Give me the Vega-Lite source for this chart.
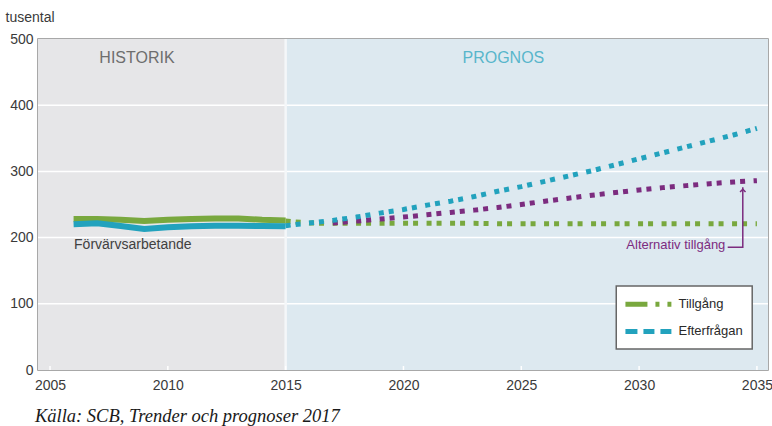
{
  "$schema": "https://vega.github.io/schema/vega-lite/v6.json",
  "width": 730,
  "height": 331,
  "autosize": {"type": "none"},
  "padding": {"left": 38, "top": 39, "right": 4, "bottom": 56},
  "background": "white",
  "config": {
    "view": {"stroke": "#8c8c8c", "strokeWidth": 1.5},
    "font": "Liberation Sans",
    "axis": {"labelFont": "Liberation Sans", "labelFontSize": 14, "labelColor": "#3a3a3a", "titleFont": "Liberation Sans", "domain": false, "ticks": false, "grid": false},
    "axisY": {"titleAngle": 0, "titleAlign": "left", "titleBaseline": "middle", "titleX": -33, "titleY": -22, "titleFontSize": 14, "titleFontWeight": "normal", "titleColor": "#3a3a3a"}
  },
  "datasets": {
    "hist": [
      {"year": 2006, "value": 228, "s": "Tillgång"},
      {"year": 2007, "value": 228, "s": "Tillgång"},
      {"year": 2008, "value": 227, "s": "Tillgång"},
      {"year": 2009, "value": 225, "s": "Tillgång"},
      {"year": 2010, "value": 227, "s": "Tillgång"},
      {"year": 2011, "value": 228, "s": "Tillgång"},
      {"year": 2012, "value": 229, "s": "Tillgång"},
      {"year": 2013, "value": 229, "s": "Tillgång"},
      {"year": 2014, "value": 227, "s": "Tillgång"},
      {"year": 2015, "value": 226, "s": "Tillgång"},
      {"year": 2006, "value": 220, "s": "Efterfrågan"},
      {"year": 2007, "value": 221.5, "s": "Efterfrågan"},
      {"year": 2008, "value": 217.5, "s": "Efterfrågan"},
      {"year": 2009, "value": 213, "s": "Efterfrågan"},
      {"year": 2010, "value": 215.5, "s": "Efterfrågan"},
      {"year": 2011, "value": 217, "s": "Efterfrågan"},
      {"year": 2012, "value": 218, "s": "Efterfrågan"},
      {"year": 2013, "value": 218, "s": "Efterfrågan"},
      {"year": 2014, "value": 217.5, "s": "Efterfrågan"},
      {"year": 2015, "value": 217, "s": "Efterfrågan"}
    ],
    "prog": [
      {"year": 2015, "value": 225, "s": "Tillgång"},
      {"year": 2016, "value": 222, "s": "Tillgång"},
      {"year": 2017, "value": 221.5, "s": "Tillgång"},
      {"year": 2018, "value": 221.5, "s": "Tillgång"},
      {"year": 2019, "value": 221.5, "s": "Tillgång"},
      {"year": 2020, "value": 221.5, "s": "Tillgång"},
      {"year": 2021, "value": 221.5, "s": "Tillgång"},
      {"year": 2022, "value": 221.5, "s": "Tillgång"},
      {"year": 2023, "value": 221.5, "s": "Tillgång"},
      {"year": 2024, "value": 221, "s": "Tillgång"},
      {"year": 2025, "value": 221, "s": "Tillgång"},
      {"year": 2026, "value": 221, "s": "Tillgång"},
      {"year": 2027, "value": 221, "s": "Tillgång"},
      {"year": 2028, "value": 221, "s": "Tillgång"},
      {"year": 2029, "value": 221, "s": "Tillgång"},
      {"year": 2030, "value": 221, "s": "Tillgång"},
      {"year": 2031, "value": 221, "s": "Tillgång"},
      {"year": 2032, "value": 221, "s": "Tillgång"},
      {"year": 2033, "value": 221, "s": "Tillgång"},
      {"year": 2034, "value": 221, "s": "Tillgång"},
      {"year": 2035, "value": 221, "s": "Tillgång"},
      {"year": 2017, "value": 222, "s": "Alternativ"},
      {"year": 2018, "value": 225, "s": "Alternativ"},
      {"year": 2019, "value": 228, "s": "Alternativ"},
      {"year": 2020, "value": 231, "s": "Alternativ"},
      {"year": 2021, "value": 234.5, "s": "Alternativ"},
      {"year": 2022, "value": 238, "s": "Alternativ"},
      {"year": 2023, "value": 241.5, "s": "Alternativ"},
      {"year": 2024, "value": 245.5, "s": "Alternativ"},
      {"year": 2025, "value": 250, "s": "Alternativ"},
      {"year": 2026, "value": 255, "s": "Alternativ"},
      {"year": 2027, "value": 259.5, "s": "Alternativ"},
      {"year": 2028, "value": 264, "s": "Alternativ"},
      {"year": 2029, "value": 268, "s": "Alternativ"},
      {"year": 2030, "value": 272, "s": "Alternativ"},
      {"year": 2031, "value": 275.5, "s": "Alternativ"},
      {"year": 2032, "value": 278.5, "s": "Alternativ"},
      {"year": 2033, "value": 281.5, "s": "Alternativ"},
      {"year": 2034, "value": 284, "s": "Alternativ"},
      {"year": 2035, "value": 286, "s": "Alternativ"},
      {"year": 2015, "value": 218, "s": "Efterfrågan"},
      {"year": 2016, "value": 222, "s": "Efterfrågan"},
      {"year": 2017, "value": 226, "s": "Efterfrågan"},
      {"year": 2018, "value": 231, "s": "Efterfrågan"},
      {"year": 2019, "value": 237, "s": "Efterfrågan"},
      {"year": 2020, "value": 242.5, "s": "Efterfrågan"},
      {"year": 2021, "value": 249, "s": "Efterfrågan"},
      {"year": 2022, "value": 255, "s": "Efterfrågan"},
      {"year": 2023, "value": 262, "s": "Efterfrågan"},
      {"year": 2024, "value": 270, "s": "Efterfrågan"},
      {"year": 2025, "value": 277, "s": "Efterfrågan"},
      {"year": 2026, "value": 285, "s": "Efterfrågan"},
      {"year": 2027, "value": 293, "s": "Efterfrågan"},
      {"year": 2028, "value": 301, "s": "Efterfrågan"},
      {"year": 2029, "value": 310, "s": "Efterfrågan"},
      {"year": 2030, "value": 319, "s": "Efterfrågan"},
      {"year": 2031, "value": 328, "s": "Efterfrågan"},
      {"year": 2032, "value": 337, "s": "Efterfrågan"},
      {"year": 2033, "value": 346, "s": "Efterfrågan"},
      {"year": 2034, "value": 355, "s": "Efterfrågan"},
      {"year": 2035, "value": 365, "s": "Efterfrågan"}
    ]
  },
  "layer": [
    {
      "data": {"values": [
        {"x1": 2004.49, "x2": 2015, "p": "hist"},
        {"x1": 2015, "x2": 2035.47, "p": "prog"}
      ]},
      "mark": {"type": "rect"},
      "encoding": {
        "x": {"field": "x1", "type": "quantitative", "title": null, "scale": {"domain": [2004.49, 2035.47], "nice": false, "zero": false}},
        "x2": {"field": "x2"},
        "fill": {"field": "p", "type": "nominal", "scale": {"domain": ["hist", "prog"], "range": ["#e6e6e8", "#dde9f0"]}, "legend": null}
      }
    },
    {
      "data": {"values": [{"y": 100}, {"y": 200}, {"y": 300}, {"y": 400}]},
      "mark": {"type": "rule", "stroke": "white", "strokeWidth": 1.5},
      "encoding": {
        "y": {"field": "y", "type": "quantitative", "title": "tusental", "scale": {"domain": [0, 500], "nice": false},
          "axis": {"values": [0, 100, 200, 300, 400, 500], "labelPadding": 5}}
      }
    },
    {
      "data": {"values": [{"x": 2015}]},
      "mark": {"type": "rule", "stroke": "#f4f7f9", "strokeWidth": 2.5},
      "encoding": {"x": {"field": "x", "type": "quantitative", "title": null}}
    },
    {
      "data": {"values": [
        {"x": 2005, "a": 0, "b": 6}, {"x": 2010, "a": 0, "b": 6}, {"x": 2015, "a": 0, "b": 6},
        {"x": 2020, "a": 0, "b": 6}, {"x": 2025, "a": 0, "b": 6}, {"x": 2030, "a": 0, "b": 6}, {"x": 2035, "a": 0, "b": 6}
      ]},
      "mark": {"type": "rule", "stroke": "white", "strokeWidth": 1.5},
      "encoding": {
        "x": {"field": "x", "type": "quantitative",
          "axis": {"title": null, "values": [2005, 2010, 2015, 2020, 2025, 2030, 2035], "format": "d", "labelPadding": 8, "labelBaseline": "top"}},
        "y": {"field": "a", "type": "quantitative", "title": "tusental"},
        "y2": {"field": "b"}
      }
    },
    {
      "data": {"name": "hist"},
      "mark": {"type": "line", "strokeWidth": 6, "strokeCap": "butt"},
      "encoding": {
        "x": {"field": "year", "type": "quantitative", "title": null},
        "y": {"field": "value", "type": "quantitative", "title": "tusental"},
        "stroke": {"field": "s", "type": "nominal", "scale": {"domain": ["Tillgång", "Efterfrågan", "Alternativ"], "range": ["#79a83e", "#22a2bd", "#7c2c7f"]}, "legend": null}
      }
    },
    {
      "data": {"name": "prog"},
      "transform": [{"filter": "datum.s === 'Tillgång'"}],
      "mark": {"type": "line", "strokeWidth": 5, "strokeCap": "butt", "strokeDash": [5, 5, 5, 8.5], "stroke": "#79a83e"},
      "encoding": {
        "x": {"field": "year", "type": "quantitative", "title": null},
        "y": {"field": "value", "type": "quantitative", "title": "tusental"}
      }
    },
    {
      "data": {"name": "prog"},
      "transform": [{"filter": "datum.s === 'Alternativ'"}],
      "mark": {"type": "line", "strokeWidth": 5, "strokeCap": "butt", "strokeDash": [5, 5, 5, 8.5], "stroke": "#7c2c7f"},
      "encoding": {
        "x": {"field": "year", "type": "quantitative", "title": null},
        "y": {"field": "value", "type": "quantitative", "title": "tusental"}
      }
    },
    {
      "data": {"name": "prog"},
      "transform": [{"filter": "datum.s === 'Efterfrågan'"}],
      "mark": {"type": "line", "strokeWidth": 5, "strokeCap": "butt", "strokeDash": [5, 5, 5, 8.5], "stroke": "#22a2bd"},
      "encoding": {
        "x": {"field": "year", "type": "quantitative", "title": null},
        "y": {"field": "value", "type": "quantitative", "title": "tusental"}
      }
    },
    {
      "data": {"values": [
        {"x": 2008.69, "y": 471, "t": "HISTORIK", "c": "h"},
        {"x": 2024.24, "y": 471, "t": "PROGNOS", "c": "p"}
      ]},
      "mark": {"type": "text", "fontSize": 16, "align": "center", "baseline": "middle", "font": "Liberation Sans"},
      "encoding": {
        "x": {"field": "x", "type": "quantitative", "title": null},
        "y": {"field": "y", "type": "quantitative", "title": "tusental"},
        "text": {"field": "t"},
        "color": {"field": "c", "type": "nominal", "scale": {"domain": ["h", "p"], "range": ["#6e6e6e", "#58b6cb"]}, "legend": null}
      }
    },
    {
      "data": {"values": [{"x": 2006.02, "y": 189, "t": "Förvärvsarbetande"}]},
      "mark": {"type": "text", "fontSize": 14, "align": "left", "baseline": "middle", "color": "#404040", "font": "Liberation Sans"},
      "encoding": {
        "x": {"field": "x", "type": "quantitative", "title": null},
        "y": {"field": "y", "type": "quantitative", "title": "tusental"},
        "text": {"field": "t"}
      }
    },
    {
      "data": {"values": [{"x": 2033.66, "y": 189, "t": "Alternativ tillgång"}]},
      "mark": {"type": "text", "fontSize": 13, "align": "right", "baseline": "middle", "color": "#7c2c7f", "font": "Liberation Sans"},
      "encoding": {
        "x": {"field": "x", "type": "quantitative", "title": null},
        "y": {"field": "y", "type": "quantitative", "title": "tusental"},
        "text": {"field": "t"}
      }
    },
    {
      "data": {"values": [
        {"x": 2033.76, "y": 185.5, "o": 1},
        {"x": 2034.4, "y": 185.5, "o": 2},
        {"x": 2034.4, "y": 276, "o": 3}
      ]},
      "mark": {"type": "line", "stroke": "#7c2c7f", "strokeWidth": 1.5},
      "encoding": {
        "x": {"field": "x", "type": "quantitative", "title": null},
        "y": {"field": "y", "type": "quantitative", "title": "tusental"},
        "order": {"field": "o"}
      }
    },
    {
      "data": {"values": [{"x": 2034.4, "y": 273}]},
      "mark": {"type": "point", "shape": "M-1,1L0,0L1,1", "filled": false, "stroke": "#7c2c7f", "strokeWidth": 1.5, "size": 30, "opacity": 1},
      "encoding": {
        "x": {"field": "x", "type": "quantitative", "title": null},
        "y": {"field": "y", "type": "quantitative", "title": "tusental"}
      }
    },
    {
      "data": {"values": [{"x1": 2029.03, "x2": 2034.8, "y1": 31.7, "y2": 126.9}]},
      "mark": {"type": "rect", "fill": "white", "stroke": "#666666", "strokeWidth": 1.5},
      "encoding": {
        "x": {"field": "x1", "type": "quantitative", "title": null},
        "x2": {"field": "x2"},
        "y": {"field": "y1", "type": "quantitative", "title": "tusental"},
        "y2": {"field": "y2"}
      }
    },
    {
      "data": {"values": [{"x": 2029.42, "y": 99.5}, {"x": 2031.37, "y": 99.5}]},
      "mark": {"type": "line", "stroke": "#79a83e", "strokeWidth": 5, "strokeCap": "butt", "strokeDash": [22, 8, 4, 8, 4, 100]},
      "encoding": {
        "x": {"field": "x", "type": "quantitative", "title": null},
        "y": {"field": "y", "type": "quantitative", "title": "tusental"}
      }
    },
    {
      "data": {"values": [{"x": 2029.42, "y": 58}, {"x": 2031.37, "y": 58}]},
      "mark": {"type": "line", "stroke": "#22a2bd", "strokeWidth": 5, "strokeCap": "butt", "strokeDash": [12, 6, 11, 6, 11, 100]},
      "encoding": {
        "x": {"field": "x", "type": "quantitative", "title": null},
        "y": {"field": "y", "type": "quantitative", "title": "tusental"}
      }
    },
    {
      "data": {"values": [
        {"x": 2031.67, "y": 100, "t": "Tillgång"},
        {"x": 2031.67, "y": 58.5, "t": "Efterfrågan"}
      ]},
      "mark": {"type": "text", "fontSize": 13, "align": "left", "baseline": "middle", "color": "#2a2a2a", "font": "Liberation Sans"},
      "encoding": {
        "x": {"field": "x", "type": "quantitative", "title": null},
        "y": {"field": "y", "type": "quantitative", "title": "tusental"},
        "text": {"field": "t"}
      }
    },
    {
      "data": {"values": [{"x": 2004.36, "y": -69.5, "t": "Källa: SCB, Trender och prognoser 2017"}]},
      "mark": {"type": "text", "fontSize": 18.5, "fontStyle": "italic", "align": "left", "baseline": "middle", "color": "#1a1a1a", "font": "Liberation Serif"},
      "encoding": {
        "x": {"field": "x", "type": "quantitative", "title": null},
        "y": {"field": "y", "type": "quantitative", "title": "tusental"},
        "text": {"field": "t"}
      }
    }
  ]
}
